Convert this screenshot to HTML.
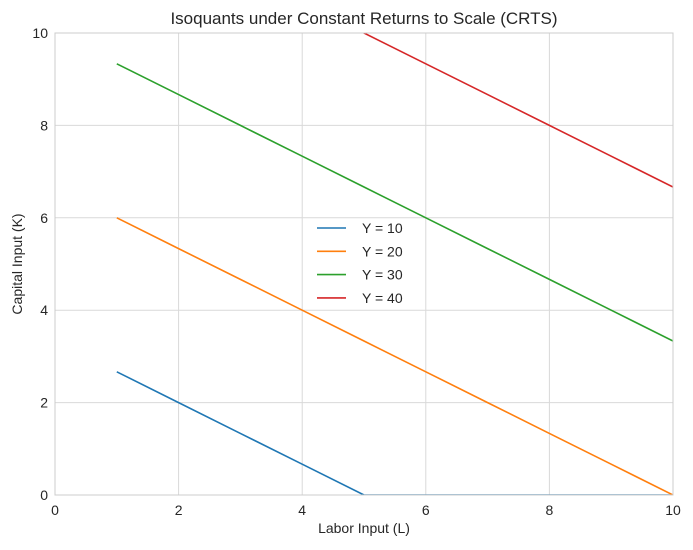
<!DOCTYPE html>
<html><head><meta charset="utf-8"><style>
body{margin:0;background:#fff;}
text{font-family:"Liberation Sans","DejaVu Sans",sans-serif;fill:#262626;}
</style></head><body>
<svg id="chart" width="693" height="545" xmlns="http://www.w3.org/2000/svg">
<defs><clipPath id="clip"><rect x="55" y="33" width="618" height="462"/></clipPath></defs>
<text x="364" y="24" font-size="17" text-anchor="middle">Isoquants under Constant Returns to Scale (CRTS)</text>
<g id="grid"></g>
<g id="series" clip-path="url(#clip)"></g>
<rect x="55" y="33" width="618" height="462" fill="none" stroke="#cccccc" stroke-width="1"/>
<g id="ticks"></g>
<text x="364" y="533" font-size="14" text-anchor="middle">Labor Input (L)</text>
<text x="22" y="264" font-size="14" text-anchor="middle" transform="rotate(-90 22 264)">Capital Input (K)</text>
<g id="legend"></g>
</svg>
<script>
const laborValues=[1,2,3,4,5,6,7,8,9,10];
const seriesNames=["Y = 10","Y = 20","Y = 30","Y = 40"];
const y10=[2.667,2,1.333,0.667,0,0,0,0,0,0];
const y20=[6,5.333,4.667,4,3.333,2.667,2,1.333,0.667,0];
const y30=[9.333,8.667,8,7.333,6.667,6,5.333,4.667,4,3.333];
const y40=[12.667,12,11.333,10.667,10,9.333,8.667,8,7.333,6.667];
const seriesValues=[y10,y20,y30,y40];
const colors=["#1f77b4","#ff7f0e","#2ca02c","#d62728"];
const xTicks=[0,2,4,6,8,10];
const yTicks=[0,2,4,6,8,10];
const NS="http://www.w3.org/2000/svg";
const X0=55,X1=673,Y0=495,Y1=33;
const sx=v=>X0+(v-0)/(10-0)*(X1-X0);
const sy=v=>Y0-(v-0)/(10-0)*(Y0-Y1);
function mk(tag,attrs,parent){const e=document.createElementNS(NS,tag);for(const k in attrs)e.setAttribute(k,attrs[k]);parent.appendChild(e);return e;}
const grid=document.getElementById('grid'),ticks=document.getElementById('ticks');
xTicks.forEach(t=>{
 const l=mk('line',{x1:sx(t),x2:sx(t),y1:Y1,y2:Y0,stroke:'#d9d9d9','stroke-width':1},grid);
 
 
 const tx=mk('text',{x:sx(t),y:Y0+20,'font-size':14,'text-anchor':'middle'},ticks);
 tx.textContent=t;
 
 
});
yTicks.forEach(t=>{
 const l=mk('line',{x1:X0,x2:X1,y1:sy(t),y2:sy(t),stroke:'#d9d9d9','stroke-width':1},grid);
 
 
 const tx=mk('text',{x:X0-7,y:sy(t)+5,'font-size':14,'text-anchor':'end'},ticks);
 tx.textContent=t;
 
 
});
const sg=document.getElementById('series');
seriesValues.forEach((vals,i)=>{
 const pts=vals.map((v,j)=>sx(laborValues[j])+','+sy(v)).join(' ');
 const p=mk('polyline',{points:pts,fill:'none',stroke:colors[i],'stroke-width':1.6},sg);
 
 
});
const lg=document.getElementById('legend');
seriesNames.forEach((n,i)=>{
 const y=228+i*23.3;
 const l=mk('line',{x1:317,x2:346,y1:y,y2:y,stroke:colors[i],'stroke-width':1.6},lg);
 
 
 const t=mk('text',{x:362,y:y+5,'font-size':14},lg);
 t.textContent=n;
 
 
});
</script>
</body></html>
